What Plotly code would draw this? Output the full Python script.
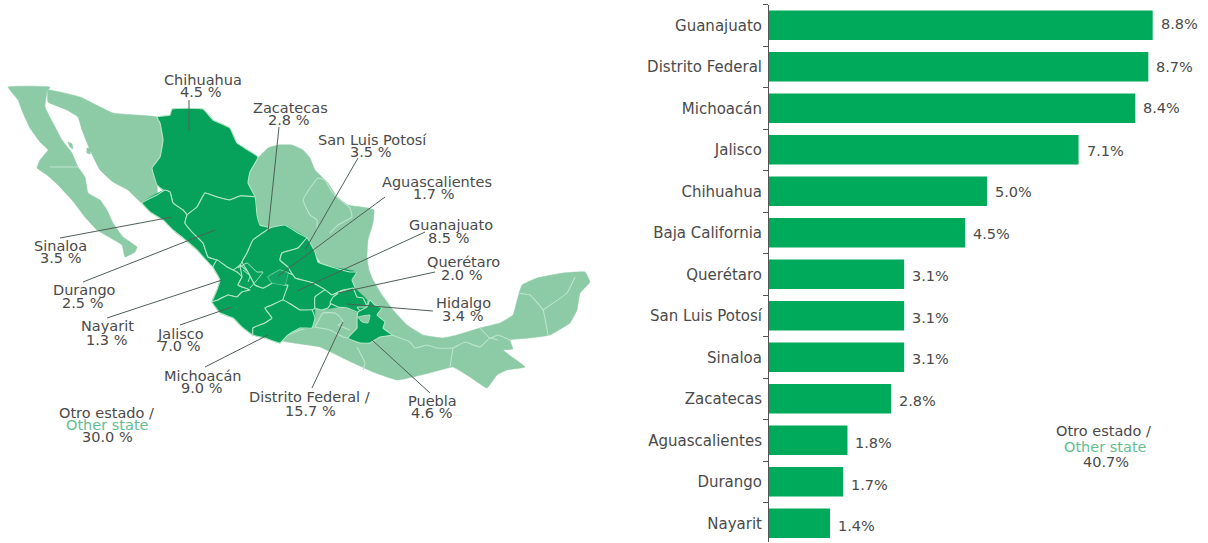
import plotly.graph_objects as go

# ---- bar chart data ----
bar_states = ["Guanajuato", "Distrito Federal", "Michoacán", "Jalisco", "Chihuahua",
              "Baja California", "Querétaro", "San Luis Potosí", "Sinaloa", "Zacatecas",
              "Aguascalientes", "Durango", "Nayarit"]
bar_values = [8.8, 8.7, 8.4, 7.1, 5.0, 4.5, 3.1, 3.1, 3.1, 2.8, 1.8, 1.7, 1.4]
other_bar = "40.7%"

# ---- map labels (state, share) ----
map_states = ["Chihuahua", "Zacatecas", "San Luis Potosí", "Aguascalientes", "Guanajuato",
              "Querétaro", "Hidalgo", "Puebla", "Distrito Federal /", "Michoacán",
              "Jalisco", "Nayarit", "Durango", "Sinaloa"]
map_shares = ["4.5 %", "2.8 %", "3.5 %", "1.7 %", "8.5 %", "2.0 %", "3.4 %", "4.6 %",
              "15.7 %", "9.0 %", "7.0 %", "1.3 %", "2.5 %", "3.5 %"]
other_map = "30.0 %"

# ---- map outlines, in map units ----
light_body = [(258,158),(268,148),(278,145),(292,145),(303,150),(310,158),(315,170),(328,183),(337,197),
              (348,205),(368,208),(374,210),(373,223),(368,240),(367,257),(369,270),(373,280),(382,295),
              (393,310),(407,325),(423,335),(443,338),(457,335),(480,328),(500,323),(513,315),(518,297),
              (522,285),(537,278),(563,273),(585,272),(590,282),(580,293),(577,310),(570,323),(550,335),
              (530,338),(510,340),(513,349),(503,350),(525,367),(507,370),(497,375),(487,388),(470,377),
              (453,367),(433,372),(413,377),(397,380),(373,372),(347,360),(320,347),(287,342),(280,340),
              (300,325),(310,320),(310,300),(325,285),(325,270),(308,245),(285,232),(268,230),(260,225),
              (257,215),(255,197),(248,183),(250,172)]
baja = [(8,87),(50,87),(47,92),(45,107),(53,123),(62,140),(72,153),(78,167),(85,177),(88,193),(100,200),
        (107,210),(113,223),(123,237),(137,247),(135,252),(125,257),(122,245),(97,230),(85,217),(72,200),
        (58,185),(47,175),(37,168),(40,160),(48,150),(40,142),(30,128),(23,113),(18,100)]
sonora = [(48,90),(80,97),(113,113),(157,117),(160,123),(163,140),(160,157),(152,168),(157,183),(157,197),
          (142,203),(128,190),(113,182),(100,170),(90,150),(82,130),(78,117),(67,110),(48,102)]
colima = [(233,318),(245,320),(255,330),(253,335),(243,328)]
island_a = [(68,142),(72,144),(73,149),(70,147)]
island_b = [(87,148),(91,149),(90,154),(87,153)]
tlaxcala = [(358,317),(370,315),(368,323),(362,322)]

dark_mass = [(165,190),(187,215),(205,193),(255,197),(257,215),(260,225),(270,228),(285,225),(307,238),
             (315,252),(318,262),(332,267),(357,272),(352,280),(355,288),(367,300),(363,315),(347,308),
             (338,307),(322,310),(315,308),(315,318),(312,328),(300,328),(288,335),(280,343),(265,338),
             (253,335),(243,328),(233,318),(220,313),(212,302),(217,290),(220,280),(213,267),(197,250),
             (183,238),(173,230),(163,220),(150,212),(142,203)]
chihuahua = [(157,117),(170,115),(172,109),(203,109),(213,120),(230,128),(237,143),(258,157),(250,172),
             (248,183),(255,197),(240,196),(230,200),(217,197),(205,193),(197,207),(187,215),(183,210),
             (173,203),(170,192),(163,190),(157,185),(152,168),(160,157),(163,140),(160,123)]
sinaloa = [(142,203),(157,195),(165,190),(170,192),(173,203),(183,210),(187,215),(185,223),(192,232),
           (203,243),(208,257),(217,260),(213,267),(197,250),(183,238),(173,230),(163,220),(150,212)]
durango = [(187,215),(197,207),(205,193),(217,197),(230,200),(240,196),(255,197),(257,215),(260,225),
           (270,228),(253,240),(247,253),(242,262),(240,265),(233,270),(227,267),(217,260),(208,257),
           (203,243),(192,232),(185,223)]
nayarit = [(213,267),(217,260),(227,267),(233,270),(237,272),(242,277),(238,285),(250,290),(242,292),
           (237,297),(228,295),(218,300),(212,302),(217,290),(220,280)]
jalisco = [(212,302),(218,300),(228,295),(237,297),(242,292),(250,290),(238,285),(242,277),(240,265),
           (248,272),(255,285),(263,288),(272,283),(285,285),(288,285),(283,300),(272,305),(265,308),
           (272,318),(265,323),(253,328),(253,335),(243,328),(233,318),(220,313)]
zacatecas = [(270,228),(278,226),(285,225),(298,233),(307,238),(298,248),(282,253),(280,260),(288,267),
             (293,275),(288,273),(280,270),(268,277),(272,283),(263,288),(255,285),(248,272),(242,262),
             (247,253),(253,240)]
aguascalientes = [(268,277),(280,270),(288,273),(285,285),(272,283)]
san_luis = [(307,238),(315,252),(318,262),(332,267),(350,272),(357,272),(352,280),(355,288),(343,290),
            (332,295),(325,290),(313,283),(295,278),(288,267),(280,260),(282,253),(298,248)]
guanajuato = [(295,278),(313,283),(325,290),(315,297),(315,308),(312,310),(300,310),(292,305),(283,300),
              (288,285),(285,285),(288,273),(293,275)]
queretaro = [(315,297),(325,290),(332,295),(343,290),(332,302),(328,308),(322,310),(315,308)]
hidalgo = [(333,297),(340,292),(353,288),(357,297),(363,298),(367,307),(357,307),(363,315),(352,310),
           (347,308),(338,307),(330,303)]
puebla = [(370,300),(375,305),(382,308),(377,315),(385,322),(383,328),(392,335),(380,337),(370,343),
          (360,343),(348,338),(357,328),(357,320),(358,312),(367,307)]
michoacan = [(265,308),(272,305),(283,300),(292,305),(300,310),(312,310),(315,318),(312,328),(300,328),
             (288,335),(280,343),(265,338),(253,335),(253,328),(265,323),(272,318)]
light_states = [baja, sonora, colima, island_a, island_b]
dark_states = [chihuahua, sinaloa, durango, nayarit, jalisco, zacatecas, san_luis, guanajuato, queretaro,
               hidalgo, puebla, michoacan]
inner_dark = [[(238,268),(247,263),(257,272),(263,272),(257,280),(250,288)],
              [(243,270),(250,276),(248,282)]]
inner_light = [[(50,167),(78,167)],
               [(310,188),(318,178),(325,180),(332,192),(338,198),(350,208),(352,217),(338,225),(330,233)],
               [(310,188),(303,200),(310,215),(317,220),(317,230)],
               [(392,335),(410,342),(415,348),(427,345),(437,348),(453,348),(465,342),(480,347),(490,338),(498,340)],
               [(453,348),(450,367)],
               [(480,328),(490,338),(498,335),(510,340)],
               [(518,293),(530,295),(543,310),(548,335)],
               [(543,310),(567,293),(575,277)],
               [(357,347),(365,363),(363,370)],
               [(288,335),(300,330),(313,327),(330,330),(343,337),(348,338)],
               [(315,327),(323,313),(335,313),(340,317),(343,322),(338,325),(350,330)]]
leaders = [[(189,100),(189,131)], [(279,127),(268,232)], [(358,158),(305,250)], [(385,197),(278,276)],
           [(425,232),(297,291)], [(435,272),(338,293)], [(433,311),(347,304)], [(430,393),(372,340)],
           [(312,388),(343,322)], [(205,367),(268,335)], [(180,325),(232,307)], [(107,318),(222,280)],
           [(83,282),(215,230)], [(60,238),(172,217)]]

# ---- styles and placement ----
GREEN = "#00AA5B"
DARK = "#06A25C"
LIGHT = "#8CCBA6"
EDGE_D = "#B4E6C6"
EDGE_L = "#BCE5CC"
TEXT = "#4A4A4A"
OTHER = "#62BE90"
FONT = "DejaVu Sans"
FS_MAP = 14.5
FS_BAR = 15
FS_VAL = 14.5
name_pos = [(203,80),(290,108),(372,140),(437,182),(451,225),(463,262),(463,303),(432,401),(309,397),
            (203,376),(180,334),(107,326),(84,290),(60,246)]
share_pos = [(200,92),(288,120),(370,152),(433,194),(448,238),(461,275),(462,316),(431,413),(310,411),
             (201,388),(179,346),(106,340),(82,303),(60,258)]
value_nudge = [1, 0, 0, -1, -1, -1, -2, -2, -2, -2, -3, -3, -3]

W, H = 1208, 543
fig = go.Figure()


def poly(pts, fill, edge, width=1.1, smoothing=0.3):
    fig.add_trace(go.Scatter(x=[p[0] for p in pts] + [pts[0][0]], y=[p[1] for p in pts] + [pts[0][1]],
                             mode="lines", fill="toself", fillcolor=fill,
                             line=dict(color=edge, width=width, shape="spline", smoothing=smoothing),
                             xaxis="x2", yaxis="y2", hoverinfo="skip", showlegend=False))


def path(pts, color, width=1.0, smooth=True):
    fig.add_trace(go.Scatter(x=[p[0] for p in pts], y=[p[1] for p in pts], mode="lines",
                             line=dict(color=color, width=width, shape="spline" if smooth else "linear", smoothing=0.3),
                             xaxis="x2", yaxis="y2", hoverinfo="skip", showlegend=False))


poly(light_body, LIGHT, LIGHT, 0.5)
for s in light_states:
    poly(s, LIGHT, LIGHT, 0.5)
for s in inner_light:
    path(s, EDGE_L, 1.1)
poly(dark_mass, DARK, DARK, 0.5)
for s in dark_states:
    poly(s, DARK, EDGE_D, 1.1)
poly(aguascalientes, "#0FA562", "#4FBE88", 0.8)
poly(tlaxcala, LIGHT, EDGE_L, 0.8)
for s in inner_dark:
    path(s, EDGE_D, 1.0)
for s in leaders:
    path(s, "#4F5F55", 1.0, smooth=False)

fig.add_trace(go.Bar(x=bar_values, y=bar_states, orientation="h", marker=dict(color=GREEN, line=dict(width=0)),
                     width=0.71, hovertemplate="%{y}: %{x}%<extra></extra>", showlegend=False))

ann = []
for name, share, a, b in zip(map_states, map_shares, name_pos, share_pos):
    ann.append(dict(x=a[0], y=a[1], text=name, xref="x2", yref="y2", showarrow=False,
                    font=dict(family=FONT, size=FS_MAP, color=TEXT)))
    ann.append(dict(x=b[0], y=b[1], text=share, xref="x2", yref="y2", showarrow=False,
                    font=dict(family=FONT, size=FS_MAP, color=TEXT)))
for txt, col, x, y in [("Otro estado /", TEXT, 106, 413), ("Other state", OTHER, 107, 425), (other_map, TEXT, 107, 437)]:
    ann.append(dict(x=x, y=y, text=txt, xref="x2", yref="y2", showarrow=False,
                    font=dict(family=FONT, size=FS_MAP, color=col)))
for s, v, n in zip(bar_states, bar_values, value_nudge):
    ann.append(dict(x=v, y=s, text=f"{v:.1f}%", xref="x", yref="y", xanchor="left", xshift=6, yshift=n,
                    showarrow=False, font=dict(family=FONT, size=FS_VAL, color=TEXT)))
for txt, col, px, py in [("Otro estado /", TEXT, 1103, 431), ("Other state", OTHER, 1105, 447), (other_bar, TEXT, 1106, 462)]:
    ann.append(dict(x=px / W, y=1 - py / H, text=txt, xref="paper", yref="paper", xanchor="center", yanchor="middle",
                    showarrow=False, font=dict(family=FONT, size=FS_VAL, color=col)))

fig.update_layout(
    width=W, height=H, margin=dict(l=0, r=0, t=0, b=0), paper_bgcolor="white", plot_bgcolor="white",
    showlegend=False, annotations=ann,
    xaxis=dict(domain=[769 / W, 1], range=[0, (W - 769) / 43.6], visible=False),
    yaxis=dict(domain=[1 - 542 / H, 1 - 4.5 / H], range=[12.45, -0.5], type="category",
               categoryorder="array", categoryarray=bar_states, anchor="x", tickson="boundaries",
               ticks="outside", ticklen=5, tickwidth=1, tickcolor="#555", showline=True, linecolor="#555",
               linewidth=1, showgrid=False, ticklabelstandoff=3,
               tickfont=dict(family=FONT, size=FS_BAR, color=TEXT)),
    xaxis2=dict(domain=[0, 600 / W], range=[0, 600], visible=False, anchor="y2"),
    yaxis2=dict(domain=[0, 1], range=[543, 0], visible=False, anchor="x2"),
)
fig.write_html("out.html", config={"displayModeBar": False},
               post_script="document.body.style.margin='0';document.body.style.overflow='hidden';")
